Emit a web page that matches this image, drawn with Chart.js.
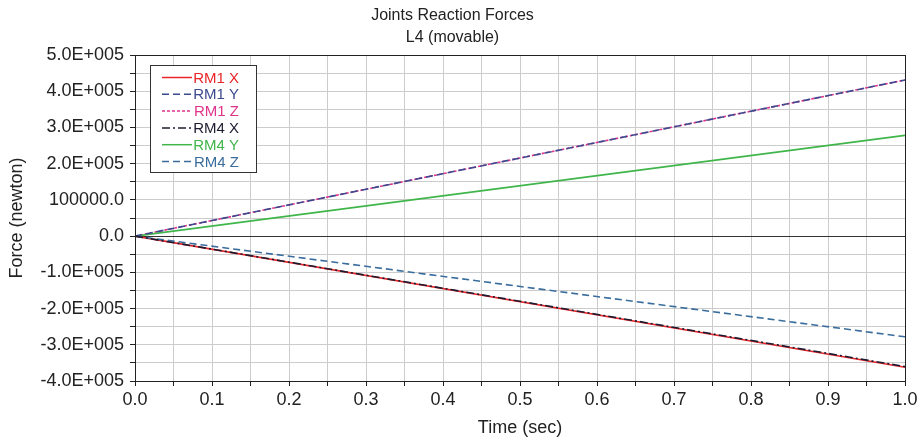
<!DOCTYPE html>
<html>
<head>
<meta charset="utf-8">
<script src="https://cdn.jsdelivr.net/npm/chart.js@4/dist/chart.umd.min.js"></script>
<style>
  html, body { margin: 0; padding: 0; background: #fff; }
  #wrap { width: 923px; height: 443px; }
</style>
</head>
<body>
<div id="wrap"><canvas id="chart" width="923" height="443"></canvas></div>
<script>
// time samples (sec)
const times = [0.0, 1.0];

// joint reaction forces (newton)
const rm1X = [0, -362000];
const rm1Y = [0, 431000];
const rm1Z = [0, 431000];
const rm4X = [0, -360000];
const rm4Y = [0, 278000];
const rm4Z = [0, -278000];

const seriesNames = ['RM1 X', 'RM1 Y', 'RM1 Z', 'RM4 X', 'RM4 Y', 'RM4 Z'];
const seriesColors = ['#e8262a', '#3b4a8e', '#e0338a', '#1c1c30', '#3fb54a', '#3a6d9c'];
const seriesDashes = [[], [7, 4], [3, 2], [8, 3, 2, 3], [], [7, 4]];
const seriesValues = [rm1X, rm1Y, rm1Z, rm4X, rm4Y, rm4Z];

const FONT = '"Liberation Sans", Arial, sans-serif';

function toPoints(values) {
    return values.map((v, i) => ({ x: times[i], y: v }));
}

// draw order: black over red, blue dashes over pink dots
const drawOrder = [4, 1, 5, 0, 2, 3];

const datasets = seriesNames.map((name, i) => ({
    label: name,
    data: toPoints(seriesValues[i]),
    borderColor: seriesColors[i],
    borderDash: seriesDashes[i],
    borderWidth: 1.6,
    pointRadius: 0,
    fill: false,
    tension: 0,
    order: drawOrder[i]
}));

function yLabel(v) {
    if (Math.round(v / 50000) % 2 !== 0) return '';
    if (v === 0) return '0.0';
    if (v === 100000) return '100000.0';
    const m = v / 100000;
    return m.toFixed(1) + 'E+005';
}

// border box and legend drawn inside the plot
const boxPlugin = {
    id: 'boxPlugin',
    afterDraw(chart) {
        const ctx = chart.ctx;
        const a = chart.chartArea;
        ctx.save();
        ctx.strokeStyle = '#222';
        ctx.lineWidth = 1;
        ctx.strokeRect(Math.round(a.left) + 0.5, Math.round(a.top) + 0.5,
            Math.round(a.right - a.left), Math.round(a.bottom - a.top));

        // legend
        const lx = 150, ly = 65, lw = 106, lh = 107;
        ctx.fillStyle = '#fff';
        ctx.fillRect(lx, ly, lw, lh);
        ctx.strokeStyle = '#333';
        ctx.strokeRect(lx + 0.5, ly + 0.5, lw, lh);
        ctx.font = '15px ' + FONT;
        ctx.textAlign = 'right';
        ctx.textBaseline = 'middle';
        seriesNames.forEach((name, i) => {
            const y = ly + 12.5 + i * 16.8;
            ctx.beginPath();
            ctx.setLineDash(seriesDashes[i]);
            ctx.strokeStyle = seriesColors[i];
            ctx.lineWidth = 1.5;
            ctx.moveTo(lx + 12, y);
            ctx.lineTo(lx + 42, y);
            ctx.stroke();
            ctx.setLineDash([]);
            ctx.fillStyle = seriesColors[i];
            ctx.fillText(name, lx + 89, y + 1);
        });
        ctx.restore();
    }
};

const ctx = document.getElementById('chart').getContext('2d');
new Chart(ctx, {
    type: 'line',
    data: { datasets },
    options: {
        responsive: false,
        animation: false,
        layout: { padding: { top: 0, right: 18, bottom: 0, left: 0 } },
        plugins: {
            legend: { display: false },
            tooltip: { enabled: false },
            title: {
                display: true,
                text: ['Joints Reaction Forces', 'L4 (movable)'],
                color: '#222',
                font: { family: FONT, size: 16, weight: 'normal', lineHeight: 1.4 },
                padding: { top: 4, bottom: 6.2 }
            }
        },
        scales: {
            x: {
                type: 'linear',
                min: 0,
                max: 1,
                afterFit(scale) { scale.height = 62; },
                ticks: {
                    stepSize: 0.05,
                    autoSkip: false,
                    maxRotation: 0,
                    color: '#222',
                    padding: 3,
                    font: { family: FONT, size: 18 },
                    callback: v => (Math.round(v * 20) % 2 === 0 ? v.toFixed(1) : '')
                },
                grid: {
                    color: '#cccccc',
                    tickColor: '#222',
                    tickLength: 5
                },
                border: { color: '#222' },
                title: {
                    display: true,
                    text: 'Time (sec)',
                    color: '#222',
                    font: { family: FONT, size: 18 },
                    padding: { top: 0, bottom: 4 }
                }
            },
            y: {
                type: 'linear',
                min: -400000,
                max: 500000,
                afterFit(scale) { scale.width = 135; },
                ticks: {
                    stepSize: 50000,
                    autoSkip: false,
                    color: '#222',
                    padding: 6,
                    font: { family: FONT, size: 18 },
                    callback: yLabel
                },
                grid: {
                    color: c => (c.tick && c.tick.value === 0 ? '#333' : '#cccccc'),
                    tickColor: '#222',
                    tickLength: 5
                },
                border: { color: '#222' },
                title: {
                    display: true,
                    text: 'Force (newton)',
                    color: '#222',
                    font: { family: FONT, size: 18 },
                    padding: { top: 6, bottom: 0 }
                }
            }
        }
    },
    plugins: [boxPlugin]
});
</script>
</body>
</html>
